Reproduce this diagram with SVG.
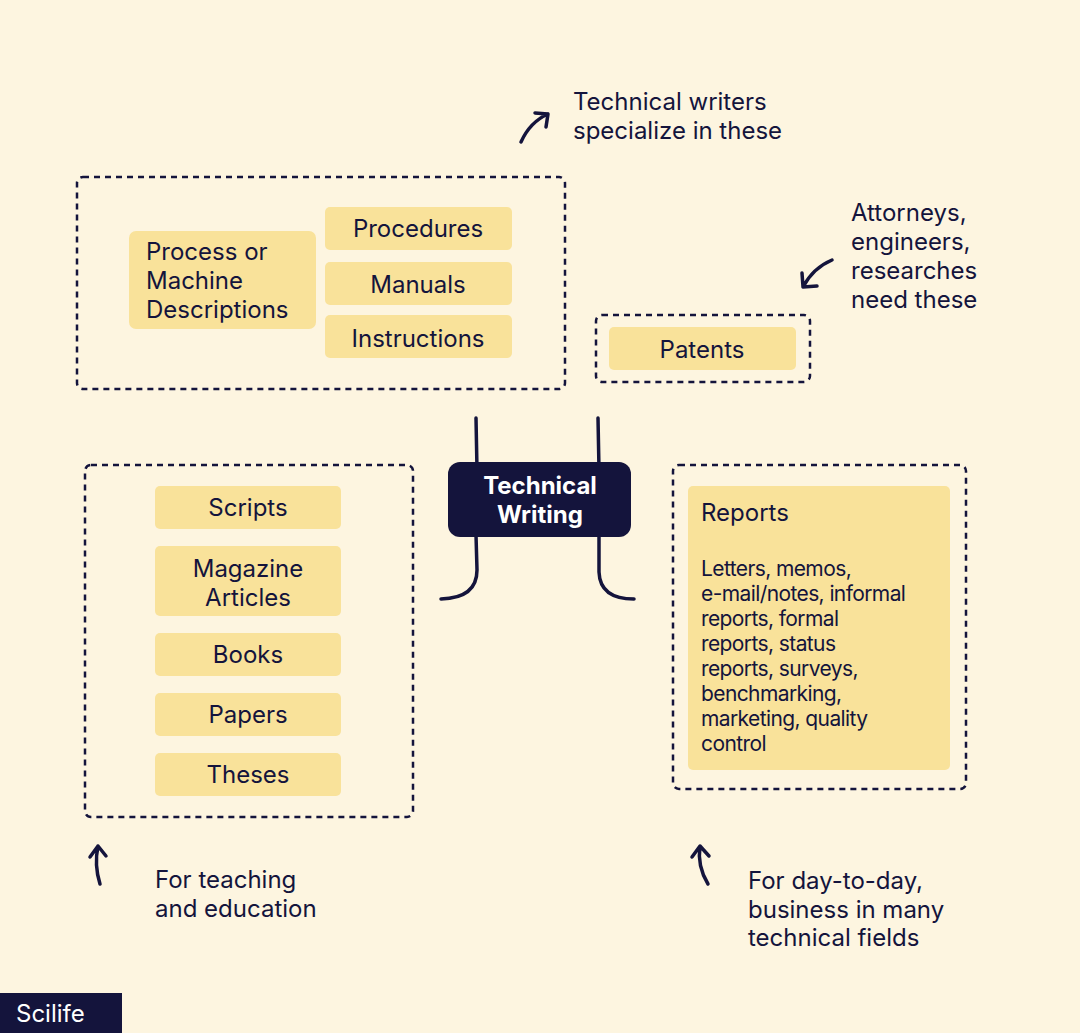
<svg xmlns="http://www.w3.org/2000/svg" width="1080" height="1033" viewBox="0 0 1080 1033">
<style>
.t{font-family:"Inter","Liberation Sans",sans-serif;font-size:24px;fill:#14143c}
.c{text-anchor:middle}
.b{fill:#f9e29a}
.d{fill:none;stroke:#14143c;stroke-width:2.5;stroke-dasharray:6 5}
.l{fill:none;stroke:#14143c;stroke-width:3.5;stroke-linecap:round;stroke-linejoin:round}
</style>
<rect width="1080" height="1033" fill="#fdf5e0"/>
<g id="connectors">
<path class="l" d="M476 418 L477 470 M476 535 L477 570 Q477 598 441 599"/>
<path class="l" d="M598 418 L599 470 M599 535 L599 572 Q600 599 634 599"/>
<path class="l" d="M521 142 Q530 122 548 114 M535 113 L548 114 L546 127"/>
<path class="l" d="M832 260 Q813 268 803 287 M802 273 L803 287 L817 286"/>
<path class="l" d="M100 884 Q94 865 98 846 M90 857 L98 846 L106 856"/>
<path class="l" d="M708 884 Q697 866 700 846 M692 857 L700 846 L709 856"/>
</g>
<g id="group-top"><rect class="d" x="77" y="177" width="488" height="212" rx="6"/></g>
<g id="process"><rect class="b" x="129" y="231" width="187" height="98" rx="7"/><text class="t" x="146" y="260">Process or</text><text class="t" x="146" y="289">Machine</text><text class="t" x="146" y="318">Descriptions</text></g>
<g id="procedures"><rect class="b" x="325" y="207" width="187" height="43" rx="5"/><text class="t c" x="418" y="237">Procedures</text></g>
<g id="manuals"><rect class="b" x="325" y="262" width="187" height="43" rx="5"/><text class="t c" x="418" y="293">Manuals</text></g>
<g id="instructions"><rect class="b" x="325" y="315" width="187" height="43" rx="5"/><text class="t c" x="418" y="347">Instructions</text></g>
<g id="group-patents"><rect class="d" x="596" y="315" width="214" height="67" rx="6"/></g>
<g id="patents"><rect class="b" x="609" y="327" width="187" height="43" rx="5"/><text class="t c" x="702" y="358">Patents</text></g>
<g id="center"><rect x="448" y="462" width="183" height="75" rx="12" fill="#14143c"/><text class="t c" x="540" y="494" style="font-weight:700;fill:#fff">Technical</text><text class="t c" x="540" y="523" style="font-weight:700;fill:#fff">Writing</text></g>
<g id="group-left"><rect class="d" x="85" y="465" width="328" height="352" rx="6"/></g>
<g id="scripts"><rect class="b" x="155" y="486" width="186" height="43" rx="5"/><text class="t c" x="248" y="516">Scripts</text></g>
<g id="magazine"><rect class="b" x="155" y="546" width="186" height="70" rx="5"/><text class="t c" x="248" y="577">Magazine</text><text class="t c" x="248" y="606">Articles</text></g>
<g id="books"><rect class="b" x="155" y="633" width="186" height="43" rx="5"/><text class="t c" x="248" y="663">Books</text></g>
<g id="papers"><rect class="b" x="155" y="693" width="186" height="43" rx="5"/><text class="t c" x="248" y="723">Papers</text></g>
<g id="theses"><rect class="b" x="155" y="753" width="186" height="43" rx="5"/><text class="t c" x="248" y="783">Theses</text></g>
<g id="group-right"><rect class="d" x="673" y="465" width="293" height="324" rx="6"/></g>
<g id="reports"><rect class="b" x="688" y="486" width="262" height="284" rx="5"/><text class="t" x="701" y="521">Reports</text>
<g style="font-size:21px;letter-spacing:-0.6px"><text class="t" style="font-size:21px" x="701" y="576">Letters, memos,</text><text class="t" style="font-size:21px" x="701" y="601">e-mail/notes, informal</text><text class="t" style="font-size:21px" x="701" y="626">reports, formal</text><text class="t" style="font-size:21px" x="701" y="651">reports, status</text><text class="t" style="font-size:21px" x="701" y="676">reports, surveys,</text><text class="t" style="font-size:21px" x="701" y="701">benchmarking,</text><text class="t" style="font-size:21px" x="701" y="726">marketing, quality</text><text class="t" style="font-size:21px" x="701" y="751">control</text></g></g>
<g id="note-top"><text class="t" x="573" y="110">Technical writers</text><text class="t" x="573" y="139">specialize in these</text></g>
<g id="note-patents"><text class="t" x="851" y="221">Attorneys,</text><text class="t" x="851" y="250">engineers,</text><text class="t" x="851" y="279">researches</text><text class="t" x="851" y="308">need these</text></g>
<g id="note-left"><text class="t" x="155" y="888">For teaching</text><text class="t" x="155" y="917">and education</text></g>
<g id="note-right"><text class="t" x="748" y="889">For day-to-day,</text><text class="t" x="748" y="918">business in many</text><text class="t" x="748" y="946">technical fields</text></g>
<g id="logo"><rect x="0" y="993" width="122" height="40" fill="#14143c"/><text class="t" x="16" y="1022" style="fill:#fff">Scilife</text></g>
</svg>
